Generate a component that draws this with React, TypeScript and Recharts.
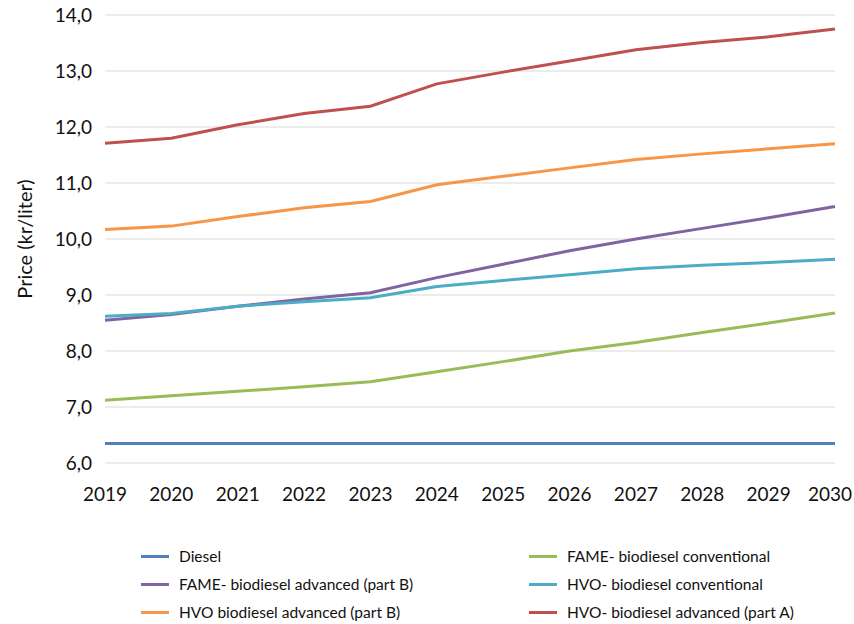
import React from "react";
import { LineChart, Line, XAxis, YAxis, CartesianGrid, Legend } from "recharts";

const years = ["2019", "2020", "2021", "2022", "2023", "2024", "2025", "2026", "2027", "2028", "2029", "2030"];
const diesel = [6.35, 6.35, 6.35, 6.35, 6.35, 6.35, 6.35, 6.35, 6.35, 6.35, 6.35, 6.35];
const fameConventional = [7.12, 7.2, 7.28, 7.36, 7.45, 7.63, 7.81, 8.0, 8.15, 8.33, 8.5, 8.68];
const fameAdvancedB = [8.55, 8.65, 8.8, 8.93, 9.04, 9.31, 9.55, 9.79, 10.0, 10.19, 10.38, 10.58];
const hvoConventional = [8.62, 8.67, 8.8, 8.88, 8.95, 9.15, 9.26, 9.36, 9.47, 9.53, 9.58, 9.64];
const hvoAdvancedB = [10.17, 10.23, 10.4, 10.56, 10.67, 10.97, 11.12, 11.27, 11.42, 11.52, 11.61, 11.7];
const hvoAdvancedA = [11.71, 11.8, 12.04, 12.24, 12.37, 12.77, 12.98, 13.18, 13.38, 13.51, 13.61, 13.75];
const yTicks = [6, 7, 8, 9, 10, 11, 12, 13, 14];

const series = [
  { key: "diesel", name: "Diesel", values: diesel, color: "#4f81bd" },
  { key: "fameConv", name: "FAME- biodiesel conventional", values: fameConventional, color: "#9bbb59" },
  { key: "fameAdvB", name: "FAME- biodiesel advanced (part B)", values: fameAdvancedB, color: "#8064a2" },
  { key: "hvoConv", name: "HVO- biodiesel conventional", values: hvoConventional, color: "#4bacc6" },
  { key: "hvoAdvB", name: "HVO biodiesel advanced (part B)", values: hvoAdvancedB, color: "#f79646" },
  { key: "hvoAdvA", name: "HVO- biodiesel advanced (part A)", values: hvoAdvancedA, color: "#c0504d" },
];

const data = years.map((year, i) => {
  const row: Record<string, string | number> = { year };
  series.forEach((s) => {
    row[s.key] = s.values[i];
  });
  return row;
});

const FONT = "Lato, 'Noto Sans', sans-serif";
const TEXT = "#111";

const LegendContent = () => (
  <div
    style={{
      display: "grid",
      gridTemplateColumns: "388px 300px",
      paddingLeft: 141,
      fontFamily: FONT,
      fontSize: 15.5,
      color: TEXT,
    }}
  >
    {series.map((s) => (
      <div key={s.key} style={{ display: "flex", alignItems: "center", height: 28 }}>
        <span style={{ display: "inline-block", width: 28, height: 3, background: s.color, marginRight: 10 }} />
        <span>{s.name}</span>
      </div>
    ))}
  </div>
);

const YLabel = (props: any) => {
  const vb = props.viewBox || { x: 0, y: 0, width: 0, height: 0 };
  const cx = vb.x + 24;
  const cy = vb.y + vb.height / 2;
  return (
    <text
      x={cx}
      y={cy}
      transform={`rotate(-90 ${cx} ${cy})`}
      textAnchor="middle"
      dominantBaseline="central"
      fontFamily={FONT}
      fontSize={20}
      fill={TEXT}
    >
      Price (kr/liter)
    </text>
  );
};

const XTick = (props: any) => {
  const { x, y, payload, index } = props;
  const shift = index === years.length - 1 ? -5 : 0;
  return (
    <text
      x={x + shift}
      y={y}
      dy="0.71em"
      textAnchor="middle"
      fontFamily={FONT}
      fontSize={19}
      fill={TEXT}
    >
      {payload.value}
    </text>
  );
};

export default function App() {
  return (
    <div style={{ position: "absolute", left: 0, top: 0, width: 854, height: 624, background: "#fff" }}>
      <LineChart width={854} height={624} data={data} margin={{ top: 15, right: 19, left: 0, bottom: 131 }}>
        <CartesianGrid horizontal vertical={false} stroke="#d9d9d9" strokeWidth={1} />
        <XAxis
          dataKey="year"
          axisLine={false}
          tickLine={false}
          tickSize={0}
          tickMargin={25}
          interval={0}
          tick={<XTick />}
        />
        <YAxis
          width={105}
          domain={[6, 14]}
          ticks={yTicks}
          axisLine={false}
          tickLine={false}
          tickSize={0}
          tickMargin={13}
          tickFormatter={(v: number) => v.toFixed(1).replace(".", ",")}
          tick={{ fontFamily: FONT, fontSize: 19, fill: TEXT }}
          label={<YLabel />}
        />
        <Legend
          verticalAlign="middle"
          layout="horizontal"
          content={<LegendContent />}
          wrapperStyle={{ top: 542, left: 0, width: 854 }}
        />
        {series.map((s) => (
          <Line
            key={s.key}
            type="linear"
            dataKey={s.key}
            name={s.name}
            stroke={s.color}
            strokeWidth={3}
            dot={false}
            activeDot={false}
            isAnimationActive={false}
          />
        ))}
      </LineChart>
    </div>
  );
}
